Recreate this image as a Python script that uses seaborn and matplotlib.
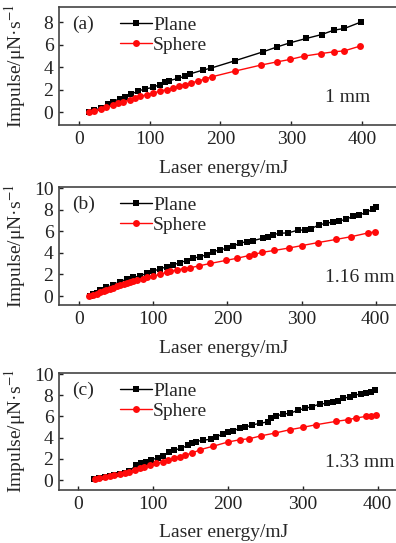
import matplotlib
matplotlib.use("Agg")
import matplotlib.pyplot as plt
import seaborn as sns
import pandas as pd

# ---- data ----
# (a) 1 mm
plane_a_x = [15, 22, 32, 41, 48, 58, 65, 74, 84, 93, 105, 114, 122, 128, 140, 150, 157,
             176, 186, 220, 260, 280, 298, 321, 343, 360, 375, 399]
plane_a_y = [0, 0.15, 0.4, 0.68, 0.92, 1.2, 1.38, 1.6, 1.88, 2.05, 2.2, 2.45, 2.65, 2.8,
             3.0, 3.2, 3.4, 3.75, 3.9, 4.56, 5.36, 5.8, 6.16, 6.55, 6.9, 7.29, 7.44, 8.03]
sphere_a_x = [15, 22, 31, 39, 48, 56, 63, 72, 79, 87, 96, 105, 114, 124, 133, 142, 150,
              159, 168, 178, 188, 220, 257, 280, 298, 318, 342, 360, 375, 397]
sphere_a_y = [0, 0.12, 0.25, 0.42, 0.6, 0.78, 0.92, 1.1, 1.25, 1.4, 1.55, 1.7, 1.85, 2.0,
              2.15, 2.3, 2.45, 2.6, 2.75, 2.95, 3.14, 3.64, 4.18, 4.47, 4.68, 4.98, 5.21,
              5.36, 5.45, 5.87]

# (b) 1.16 mm
plane_b_x = [15, 19, 24, 28, 37, 46, 55, 64, 73, 82, 91, 100, 109, 118, 127, 136, 145, 154,
             163, 172, 181, 190, 199, 208, 217, 226, 235, 248, 255, 262, 271, 282, 295,
             304, 313, 324, 333, 342, 351, 360, 369, 378, 387, 396, 401]
plane_b_y = [0.05, 0.15, 0.3, 0.56, 0.8, 1.02, 1.33, 1.55, 1.73, 1.86, 2.1, 2.32, 2.5, 2.72,
             2.88, 3.1, 3.28, 3.5, 3.65, 3.81, 4.12, 4.27, 4.43, 4.64, 4.89, 5.05, 5.14,
             5.36, 5.51, 5.7, 5.82, 5.85, 6.1, 6.12, 6.25, 6.6, 6.75, 6.85, 6.95, 7.12,
             7.37, 7.52, 7.74, 8.05, 8.24]
sphere_b_x = [14, 19, 24, 28, 33, 37, 42, 46, 51, 55, 60, 64, 69, 73, 78, 86, 91, 100, 109,
              118, 123, 132, 141, 150, 162, 177, 198, 213, 229, 236, 247, 263, 283, 301,
              322, 347, 367, 390, 399]
sphere_b_y = [0.03, 0.1, 0.2, 0.35, 0.45, 0.56, 0.65, 0.78, 0.9, 1.0, 1.12, 1.2, 1.3, 1.42,
              1.5, 1.6, 1.73, 1.86, 2.0, 2.2, 2.3, 2.4, 2.55, 2.62, 2.8, 3.02, 3.3, 3.5,
              3.75, 3.86, 4.05, 4.22, 4.45, 4.68, 4.95, 5.25, 5.5, 5.85, 5.95]

# (c) 1.33 mm
plane_c_x = [22, 29, 36, 43, 49, 56, 63, 69, 78, 85, 91, 98, 107, 114, 122, 129, 138, 147,
             152, 158, 167, 178, 185, 194, 200, 207, 216, 223, 232, 243, 254, 258, 265,
             274, 283, 294, 303, 312, 323, 332, 340, 347, 354, 363, 369, 378, 384, 391, 396]
plane_c_y = [0.1, 0.22, 0.32, 0.4, 0.5, 0.6, 0.7, 0.85, 1.42, 1.6, 1.73, 1.89, 2.11, 2.3,
             2.62, 2.83, 3.0, 3.27, 3.46, 3.62, 3.77, 3.84, 4.09, 4.34, 4.56, 4.65, 4.87,
             4.97, 5.19, 5.35, 5.5, 5.82, 6.04, 6.23, 6.29, 6.6, 6.76, 6.92, 7.17, 7.23,
             7.39, 7.48, 7.7, 7.86, 8.02, 8.11, 8.24, 8.33, 8.49]
sphere_c_x = [23, 29, 36, 43, 49, 56, 63, 69, 76, 83, 89, 96, 105, 114, 120, 129, 136, 143,
              153, 163, 180, 200, 216, 229, 245, 263, 283, 300, 318, 344, 360, 371, 384,
              391, 398]
sphere_c_y = [0.09, 0.22, 0.31, 0.38, 0.47, 0.53, 0.63, 0.79, 0.94, 1.1, 1.26, 1.42, 1.57,
              1.73, 1.89, 2.05, 2.2, 2.36, 2.55, 2.86, 3.18, 3.58, 3.8, 3.9, 4.18, 4.43,
              4.75, 4.97, 5.22, 5.53, 5.69, 5.85, 6.0, 6.07, 6.1]

panel_labels = ["(a)", "(b)", "(c)"]
size_labels = ["1 mm", "1.16 mm", "1.33 mm"]
x_ticks = [0, 100, 200, 300, 400]
y_ticks_a = [0, 2, 4, 6, 8]
y_ticks_bc = [0, 2, 4, 6, 8, 10]

sns.set_style("ticks")
plt.rcParams['font.family'] = ['Liberation Serif', 'DejaVu Serif']
plt.rcParams['mathtext.fontset'] = 'stix'
FS = 14

fig = plt.figure(figsize=(3.96, 5.43), dpi=100)

# axes boxes (fig fraction), the right edge runs past the image like the original crop
rects = [[0.149, 0.7698, 0.871, 0.2173],
         [0.149, 0.4383, 0.871, 0.2173],
         [0.149, 0.0976, 0.871, 0.2155]]
xlims = [(-28, 459), (-27, 438), (-25, 435)]
ylims = [(-1.15, 9.35), (-0.83, 10.1), (-0.94, 10.1)]
series = [(plane_a_x, plane_a_y, sphere_a_x, sphere_a_y),
          (plane_b_x, plane_b_y, sphere_b_x, sphere_b_y),
          (plane_c_x, plane_c_y, sphere_c_x, sphere_c_y)]

for i in range(3):
    ax = fig.add_axes(rects[i])
    px, py, sx, sy = series[i]
    plane_df = pd.DataFrame({"energy": px, "impulse": py})
    sphere_df = pd.DataFrame({"energy": sx, "impulse": sy})

    sns.lineplot(data=plane_df, x="energy", y="impulse", ax=ax, color="black",
                 marker="s", markersize=4.5, markeredgewidth=0, linewidth=1.0,
                 estimator=None, label="Plane")
    sns.lineplot(data=sphere_df, x="energy", y="impulse", ax=ax, color="#ff0a0a",
                 marker="o", markersize=5, markeredgewidth=0, linewidth=1.0,
                 estimator=None, label="Sphere")

    ax.set_xlim(*xlims[i])
    ax.set_ylim(*ylims[i])
    ax.set_xticks(x_ticks)
    ax.set_yticks(y_ticks_a if i == 0 else y_ticks_bc)
    ax.tick_params(direction="in", length=3, width=1, labelsize=FS, pad=4,
                   colors="#222222")
    for s in ax.spines.values():
        s.set_linewidth(1.2)
        s.set_color("#444444")

    ax.set_xlabel("Laser energy/mJ", fontsize=FS)
    ax.xaxis.label.set_va("center")
    ax.xaxis.set_label_coords(0.478, -0.365)
    ax.set_ylabel("Impulse/μN·s$^{-1}$", fontsize=FS)
    ax.yaxis.label.set_va("center")
    ax.yaxis.set_label_coords(-0.128, 0.5)

    ax.text(0.038, 0.85, panel_labels[i], transform=ax.transAxes, fontsize=FS,
            ha="left", va="center")
    ax.text(0.771, 0.237, size_labels[i], transform=ax.transAxes, fontsize=FS,
            ha="left", va="center")

    ax.legend(loc="upper left", bbox_to_anchor=(0.177, 0.921), frameon=False,
              fontsize=FS, borderaxespad=0, borderpad=0, handlelength=1.65,
              handletextpad=0.05, labelspacing=0.13)

fig.savefig("out.png", dpi=100)
